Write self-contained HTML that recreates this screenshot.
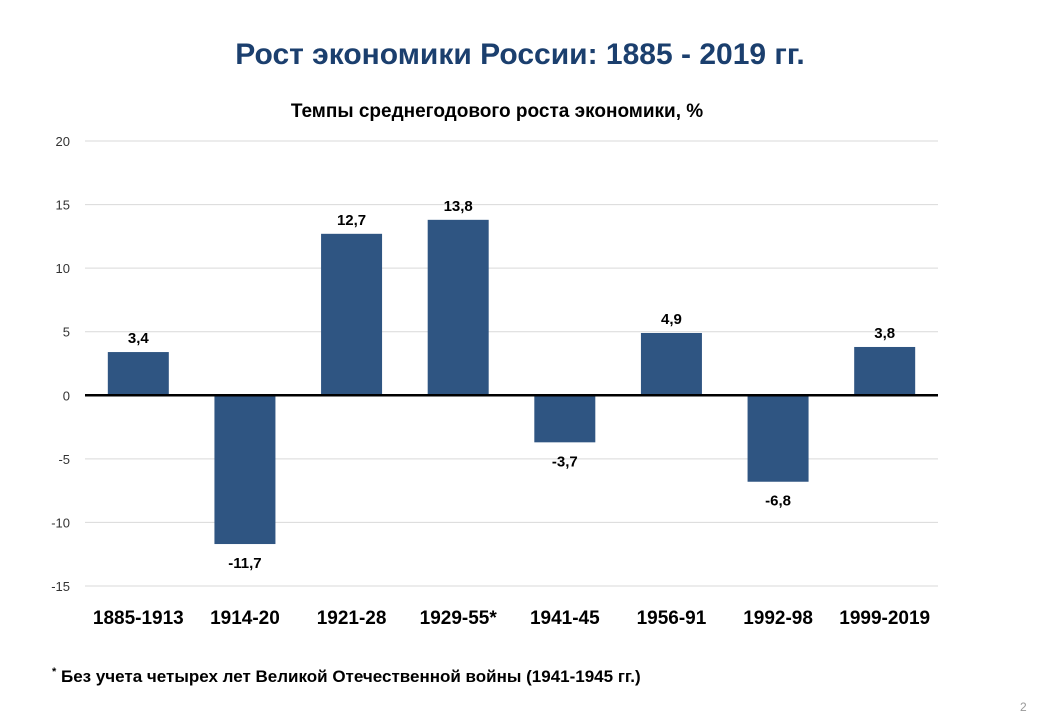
<!DOCTYPE html>
<html><head><meta charset="utf-8">
<style>
body{margin:0;background:#fff;width:1040px;height:720px;overflow:hidden;font-family:"Liberation Sans","DejaVu Sans",sans-serif;}
</style></head>
<body>
<svg width="1040" height="720" xmlns="http://www.w3.org/2000/svg">
<text x="520" y="64" text-anchor="middle" font-size="30" font-weight="bold" fill="#1b3f6e">Рост экономики России: 1885 - 2019 гг.</text>
<text x="497" y="117" text-anchor="middle" font-size="19" font-weight="bold" fill="#000">Темпы среднегодового роста экономики, %</text>
<g id="grid"></g>
<g id="bars"></g>
<text x="52" y="682" font-size="17" font-weight="bold" fill="#000"><tspan font-size="11" dy="-7">*</tspan><tspan dy="7"> Без учета четырех лет Великой Отечественной войны (1941-1945 гг.)</tspan></text>
<text x="1020" y="711" font-size="12" fill="#999">2</text>
</svg>
<script>
const categories=["1885-1913","1914-20","1921-28","1929-55*","1941-45","1956-91","1992-98","1999-2019"];
const values=[3.4,-11.7,12.7,13.8,-3.7,4.9,-6.8,3.8];
const valueLabels=["3,4","-11,7","12,7","13,8","-3,7","4,9","-6,8","3,8"];
const yTicks=[20,15,10,5,0,-5,-10,-15];
const NS="http://www.w3.org/2000/svg";
const x0=85,x1=938,yTop=141,yBot=586,yMax=20,yMin=-15;
const y=v=>yTop+(yMax-v)*(yBot-yTop)/(yMax-yMin);
const band=(x1-x0)/categories.length;
const xc=i=>x0+band*(i+0.5);
const bw=61;
function mk(tag,attrs,parent){const e=document.createElementNS(NS,tag);for(const k in attrs)e.setAttribute(k,attrs[k]);parent.appendChild(e);return e;}
const grid=document.getElementById('grid'),bars=document.getElementById('bars');
yTicks.forEach(t=>{
 if(t!==0){const l=mk('line',{x1:x0,x2:x1,y1:y(t),y2:y(t),stroke:'#d9d9d9','stroke-width':1},grid);
 
 }
 const tx=mk('text',{x:70,y:y(t)+5,'text-anchor':'end','font-size':13,fill:'#333'},grid);
 tx.textContent=t;
 
 
});
values.forEach((v,i)=>{
 const top=Math.min(y(v),y(0)),h=Math.abs(y(v)-y(0));
 const r=mk('rect',{x:xc(i)-bw/2,y:top,width:bw,height:h,fill:'#2f5582'},bars);
 
 
 const lt=mk('text',{x:xc(i),y:v>=0?y(v)-9:y(v)+24,'text-anchor':'middle','font-size':15,'font-weight':'bold',fill:'#000'},bars);
 lt.textContent=valueLabels[i];
 
 
 const ct=mk('text',{x:xc(i),y:624,'text-anchor':'middle','font-size':19,'font-weight':'bold',fill:'#000'},bars);
 ct.textContent=categories[i];
 
 
});
const z=mk('line',{x1:x0,x2:x1,y1:y(0),y2:y(0),stroke:'#000','stroke-width':2.5},bars);


</script>
</body></html>
